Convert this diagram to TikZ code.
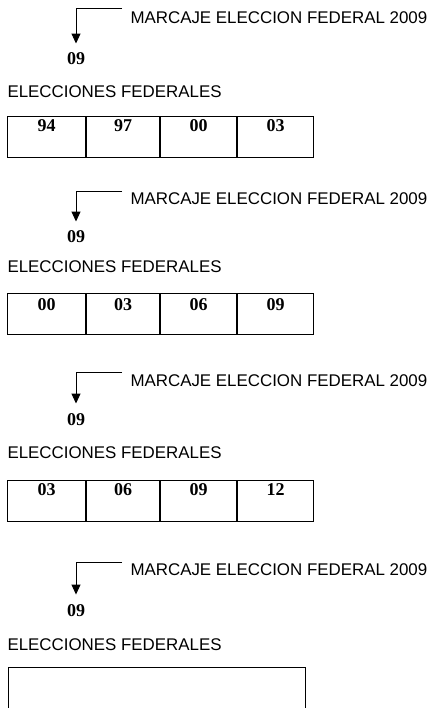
\documentclass[tikz,border=0pt]{standalone}
\usepackage{fontspec}
\setmainfont{Liberation Sans}
\newfontfamily\numfont{Liberation Serif}
\usetikzlibrary{arrows.meta, positioning}

\begin{document}
\begin{tikzpicture}[x=1pt, y=-1pt, line width=1pt,
    txt/.style = {font=\fontsize{16.9}{20}\selectfont, inner sep=0pt},
    yr/.style = {font=\numfont\bfseries\fontsize{18}{20}\selectfont, inner xsep=0pt, inner ysep=9pt},
    cell/.style = {draw, minimum height=41pt, inner sep=0pt},
    num/.style = {font=\numfont\bfseries\fontsize{18}{20}\selectfont, inner sep=0pt},
    arr/.style = {-{Triangle[width=9pt,length=10pt]}}]
  \clip (0,0) rectangle (431,708);

  \coordinate (k1) at (122,9);
  \node[txt, anchor=base west] (m1) at (130,24) {MARCAJE ELECCION FEDERAL 2009};
  \node[yr, anchor=base] (y1) at (76,65) {09};
  \node[txt, anchor=base west] (e1) at (7,98) {ELECCIONES FEDERALES};
  \node[cell, minimum width=78pt, anchor=north west] (c11) at (7,116) {};
  \node[cell, minimum width=73pt, right=0pt of c11] (c12) {};
  \node[cell, minimum width=76pt, right=0pt of c12] (c13) {};
  \node[cell, minimum width=76pt, right=0pt of c13] (c14) {};
  \node[num, anchor=base] (n11) at ([yshift=-16pt]c11.north) {94};
  \node[num, anchor=base] (n12) at ([yshift=-16pt]c12.north) {97};
  \node[num, anchor=base] (n13) at ([yshift=-16pt]c13.north) {00};
  \node[num, anchor=base] (n14) at ([yshift=-16pt]c14.north) {03};
  \draw[arr] (k1) -| (y1.north);

  \coordinate (k2) at (122,192);
  \node[txt, anchor=base west] (m2) at (130,205) {MARCAJE ELECCION FEDERAL 2009};
  \node[yr, anchor=base] (y2) at (76,243) {09};
  \node[txt, anchor=base west] (e2) at (7,272) {ELECCIONES FEDERALES};
  \node[cell, minimum width=78pt, anchor=north west] (c21) at (7,293) {};
  \node[cell, minimum width=73pt, right=0pt of c21] (c22) {};
  \node[cell, minimum width=76pt, right=0pt of c22] (c23) {};
  \node[cell, minimum width=76pt, right=0pt of c23] (c24) {};
  \node[num, anchor=base] (n21) at ([yshift=-17pt]c21.north) {00};
  \node[num, anchor=base] (n22) at ([yshift=-17pt]c22.north) {03};
  \node[num, anchor=base] (n23) at ([yshift=-17pt]c23.north) {06};
  \node[num, anchor=base] (n24) at ([yshift=-17pt]c24.north) {09};
  \draw[arr] (k2) -| (y2.north);

  \coordinate (k3) at (122,372);
  \node[txt, anchor=base west] (m3) at (130,386) {MARCAJE ELECCION FEDERAL 2009};
  \node[yr, anchor=base] (y3) at (76,425) {09};
  \node[txt, anchor=base west] (e3) at (7,458) {ELECCIONES FEDERALES};
  \node[cell, minimum width=78pt, anchor=north west] (c31) at (7,480) {};
  \node[cell, minimum width=73pt, right=0pt of c31] (c32) {};
  \node[cell, minimum width=76pt, right=0pt of c32] (c33) {};
  \node[cell, minimum width=76pt, right=0pt of c33] (c34) {};
  \node[num, anchor=base] (n31) at ([yshift=-15pt]c31.north) {03};
  \node[num, anchor=base] (n32) at ([yshift=-15pt]c32.north) {06};
  \node[num, anchor=base] (n33) at ([yshift=-15pt]c33.north) {09};
  \node[num, anchor=base] (n34) at ([yshift=-15pt]c34.north) {12};
  \draw[arr] (k3) -| (y3.north);

  \coordinate (k4) at (122,562);
  \node[txt, anchor=base west] (m4) at (130,575) {MARCAJE ELECCION FEDERAL 2009};
  \node[yr, anchor=base] (y4) at (76,616) {09};
  \node[txt, anchor=base west] (e4) at (7,650) {ELECCIONES FEDERALES};
  \node[cell, minimum width=297pt, minimum height=60pt, anchor=north west] (c41) at (8,667) {};
  \draw[arr] (k4) -| (y4.north);
\end{tikzpicture}
\end{document}
